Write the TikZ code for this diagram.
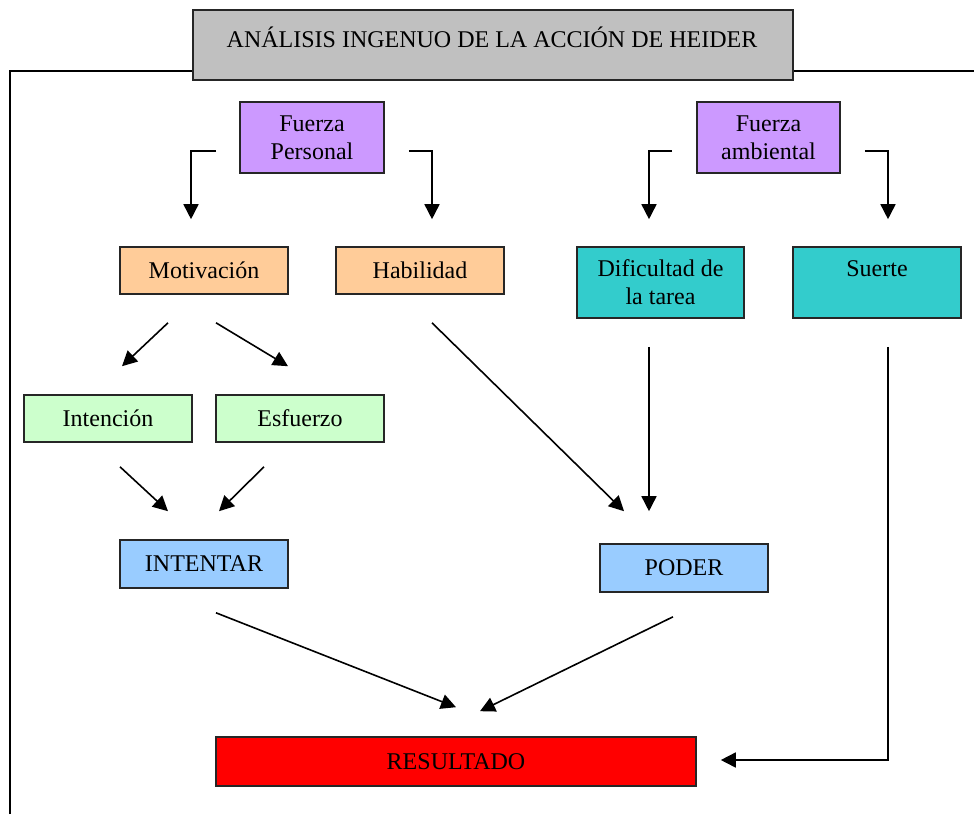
\documentclass[tikz,border=0pt]{standalone}
\usepackage{fontspec}
\setmainfont{Liberation Serif}
\usetikzlibrary{arrows.meta,calc}
\definecolor{grisT}{HTML}{C0C0C0}
\definecolor{lila}{HTML}{CC99FF}
\definecolor{naranja}{HTML}{FFCC99}
\definecolor{turquesa}{HTML}{33CCCC}
\definecolor{verde}{HTML}{CCFFCC}
\definecolor{celeste}{HTML}{99CCFF}
\definecolor{rojo}{HTML}{FF0000}
\begin{document}
\begin{tikzpicture}[x=1pt,y=-1pt,
  font=\fontsize{24}{28}\selectfont,
  caja/.style={draw=black!85,line width=1.6pt,inner sep=0pt,align=center,
    minimum width=168pt,minimum height=47pt},
  flecha/.style={line width=1.6pt,-{Triangle[length=15pt,width=15pt]}},
  linea/.style={line width=1.6pt}]
\useasboundingbox (0,0) rectangle (974,814);

% marco exterior
\draw[linea] (10,814) -- (10,71) -- (193,71);
\draw[linea] (793,71) -- (974,71);

% titulo
\node[caja,fill=grisT,minimum width=600pt,minimum height=70pt] (title) at (493,45) {};
\node (titletext) at (492,37) {ANÁLISIS INGENUO DE LA ACCIÓN DE HEIDER};

% fuerzas
\node[caja,fill=lila,minimum width=144pt,minimum height=71pt,text depth=0pt] (fp) at (312,137.5) {Fuerza\\Personal};
\node[caja,fill=lila,minimum width=143pt,minimum height=71pt,text depth=0pt] (fa) at (768.5,137.5) {Fuerza\\ambiental};

% segundo nivel
\node[caja,fill=naranja] (mot) at (204,270.5) {Motivación};
\node[caja,fill=naranja] (hab) at (420,270.5) {Habilidad};
\node[caja,fill=turquesa,minimum width=167pt,minimum height=71pt,text depth=0pt] (dif) at (660.5,282.5) {Dificultad de\\la tarea};
\node[caja,fill=turquesa,minimum height=71pt] (sue) at (877,282.5) {Suerte\\\mbox{}};

% tercer nivel
\node[caja,fill=verde] (int) at (108,418.5) {Intención};
\node[caja,fill=verde] (esf) at (300,418.5) {Esfuerzo};

\node[caja,fill=celeste,minimum height=48pt] (intentar) at (204,564) {INTENTAR};
\node[caja,fill=celeste,minimum height=48pt] (poder) at (684,568) {PODER};

\node[caja,fill=rojo,minimum width=480pt,minimum height=49pt] (res) at (456,761.5) {RESULTADO};

% conectores
\draw[flecha] ($(fp.west)+(-23,13.5)$) -| ($(mot.north)+(-13,-27)$);
\draw[flecha] ($(fp.east)+(24,13.5)$) -| ($(hab.north)+(12,-27)$);
\draw[flecha] ($(fa.west)+(-24,13.5)$) -| ($(dif.north)+(-11.5,-27)$);
\draw[flecha] ($(fa.east)+(24,13.5)$) -| ($(sue.north)+(11,-27)$);

\draw[flecha] ($(mot.south)+(-36,28)$) -- ($(int.north)+(14,-28)$);
\draw[flecha] ($(mot.south)+(12,28)$) -- ($(esf.north)+(-12,-28)$);
\draw[flecha] ($(int.south)+(12,24)$) -- ($(intentar.north)+(-36,-28)$);
\draw[flecha] ($(esf.south)+(-36,24)$) -- ($(intentar.north)+(15,-28)$);

\draw[flecha] ($(hab.south)+(12,28)$) -- ($(poder.north)+(-60,-32)$);
\draw[flecha] ($(dif.south)+(-11.5,28)$) -- ($(poder.north)+(-35,-32)$);

\draw[flecha] ($(intentar.south)+(12,24)$) -- ($(res.north)+(0,-29)$);
\draw[flecha] ($(poder.south)+(-11,24)$) -- ($(res.north)+(24,-25)$);
\draw[flecha] ($(sue.south)+(11,28)$) |- ($(res.east)+(24,-1.5)$);
\end{tikzpicture}
\end{document}
